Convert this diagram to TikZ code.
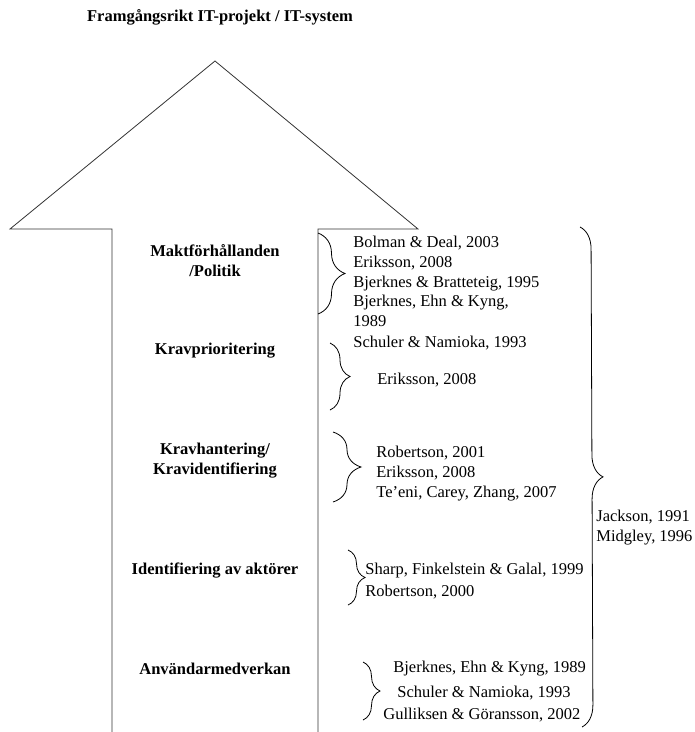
\documentclass[tikz,border=0pt]{standalone}
\usepackage{fontspec}
\setmainfont{Liberation Serif}
\usetikzlibrary{decorations.pathreplacing}

\begin{document}
\begin{tikzpicture}
	[x=1pt,y=-1pt,line width=0.8pt,
	every node/.style={inner sep=0pt,text height=12pt,text depth=3.5pt,font=\fontsize{16.5}{20}\selectfont},
	factor/.style={anchor=center,font=\fontsize{16.5}{20}\selectfont\bfseries},
	cite/.style={anchor=west},
	curly/.style={decorate,decoration={brace,amplitude=#1}}]
	\useasboundingbox (0,0) rectangle (695,732);
	\node[factor] (title) at (220,17) {Framgångsrikt IT-projekt / IT-system};
	\draw[black!80] (112,732) -- (112,229) -- (10,229) -- (215,61) -- (418,229) -- (318,229) -- (318,732);
	
	\node[factor] (f1a) at (215,252) {Maktförhållanden};
	\node[factor] (f1b) at (215,272) {/Politik};
	\node[factor] (f2) at (215,350) {Kravprioritering};
	\node[factor] (f3a) at (215,450) {Kravhantering/};
	\node[factor] (f3b) at (215,470) {Kravidentifiering};
	\node[factor] (f4) at (215,570) {Identifiering av aktörer};
	\node[factor] (f5) at (215,670) {Användarmedverkan};
	
	\node[cite] (r1) at (353,243) {Bolman \& Deal, 2003};
	\node[cite] (r2) at (353,263) {Eriksson, 2008};
	\node[cite] (r3) at (353,283) {Bjerknes \& Bratteteig, 1995};
	\node[cite] (r4) at (353,302) {Bjerknes, Ehn \& Kyng,};
	\node[cite] (r5) at (353,322) {1989};
	\node[cite] (r6) at (353,343) {Schuler \& Namioka, 1993};
	\node[cite] (r7) at (377,380) {Eriksson, 2008};
	\node[cite] (r8) at (376,453) {Robertson, 2001};
	\node[cite] (r9) at (376,473) {Eriksson, 2008};
	\node[cite] (r10) at (376,493) {Te’eni, Carey, Zhang, 2007};
	\node[cite] (r11) at (365,570) {Sharp, Finkelstein \& Galal, 1999};
	\node[cite] (r12) at (365,592) {Robertson, 2000};
	\node[cite] (r13) at (393,668) {Bjerknes, Ehn \& Kyng, 1989};
	\node[cite] (r14) at (397,693) {Schuler \& Namioka, 1993};
	\node[cite] (r15) at (383,715) {Gulliksen \& Göransson, 2002};
	\node[cite] (r16) at (596,517) {Jackson, 1991};
	\node[cite] (r17) at (596,537) {Midgley, 1996};
	
	\coordinate (b1t) at (318,233);
	\coordinate (b1b) at (318,314);
	\coordinate (b2t) at (330,343);
	\coordinate (b2b) at (330,410);
	\coordinate (b3t) at (333,432);
	\coordinate (b3b) at (333,502);
	\coordinate (b4t) at (348,550);
	\coordinate (b4b) at (348,605);
	\coordinate (b5t) at (363,662);
	\coordinate (b5b) at (363,720);
	\coordinate (b6t) at (580,227);
	\coordinate (b6b) at (582,727);
	
	\draw[curly=27] (b1t) -- (b1b);
	\draw[curly=20] (b2t) -- (b2b);
	\draw[curly=28] (b3t) -- (b3b);
	\draw[curly=17] (b4t) -- (b4b);
	\draw[curly=17] (b5t) -- (b5b);
	\draw[curly=22] (b6t) -- (b6b);
\end{tikzpicture}
\end{document}
